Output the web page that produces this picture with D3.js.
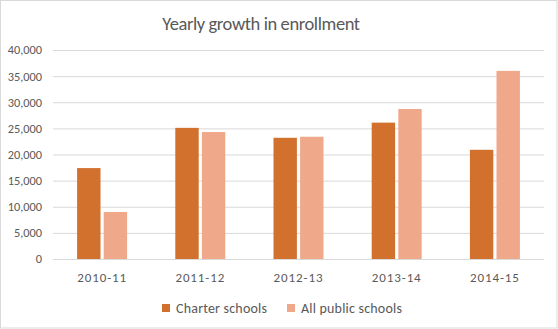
<!DOCTYPE html>
<html><head><meta charset="utf-8">
<script src="https://cdn.jsdelivr.net/npm/d3@7"></script>
<style>body{margin:0;background:#fff}text{font-family:Carlito,Lato,sans-serif}</style>
</head><body>
<svg id="c" width="558" height="329"></svg>
<script>
const categories = ["2010-11","2011-12","2012-13","2013-14","2014-15"];
const seriesNames = ["Charter schools","All public schools"];
const charter = [17400,25100,23200,26100,20900];
const allPublic = [9000,24300,23400,28700,36000];
const yTicks = [0,5000,10000,15000,20000,25000,30000,35000,40000];
const colors = ["#D2702E","#F0A88A"];

(function(){
const svg = d3.select("#c");
const W=558,H=329;
svg.append("rect").attr("x",0.5).attr("y",0.5).attr("width",W-1.5).attr("height",H-1.5)
  .attr("fill","#fff").attr("stroke","#d9d9d9");

const pl=53,pr=544,pt=50,pb=259;
const x = d3.scaleBand().domain(categories).range([pl,pr]).paddingInner(0).paddingOuter(0);
const y = d3.scaleLinear().domain([0,40000]).range([pb,pt]);
const x1 = d3.scaleBand().domain(seriesNames).range([0,50]).paddingInner(6/50);

svg.append("text").attr("x",261).attr("y",30).attr("text-anchor","middle")
  .attr("font-size",18.5).attr("letter-spacing",-0.4).attr("fill","#595959").text("Yearly growth in enrollment");

const gy = svg.append("g").attr("transform",`translate(${pl},0)`)
  .call(d3.axisLeft(y).tickValues(yTicks).tickSize(-(pr-pl)).tickPadding(11).tickFormat(d3.format(",")));
gy.select(".domain").remove();
gy.selectAll(".tick line").attr("stroke","#d9d9d9");
gy.selectAll(".tick text").attr("fill","#595959").attr("font-size",12.3).style("font-family","Carlito,Lato,sans-serif");

const gx = svg.append("g").attr("transform",`translate(0,${pb})`)
  .call(d3.axisBottom(x).tickSize(0).tickPadding(14));
gx.select(".domain").remove();
gx.selectAll(".tick text").attr("fill","#595959").attr("font-size",13).attr("letter-spacing",0.9)
  .style("font-family","Carlito,Lato,sans-serif");

const data = categories.map((c,i)=>({c, vals:[charter[i],allPublic[i]]}));
const g = svg.append("g");
data.forEach(d=>{
  d.vals.forEach((v,j)=>{
    g.append("rect")
      .attr("x", x(d.c) + x.bandwidth()/2 - 25 + x1(seriesNames[j]))
      .attr("y", y(v)).attr("width", x1.bandwidth()).attr("height", y(0)-y(v))
      .attr("fill", colors[j]);
  });
});

const leg = svg.append("g");
const legX = [162, 287];
seriesNames.forEach((s,j)=>{
  leg.append("rect").attr("x",legX[j]).attr("y",304).attr("width",8).attr("height",8).attr("fill",colors[j]);
  leg.append("text").attr("x",legX[j]+14).attr("y",312.7).attr("font-size",14).attr("letter-spacing",0.2)
    .attr("fill","#595959").text(s);
});
})();
</script>
</body></html>
